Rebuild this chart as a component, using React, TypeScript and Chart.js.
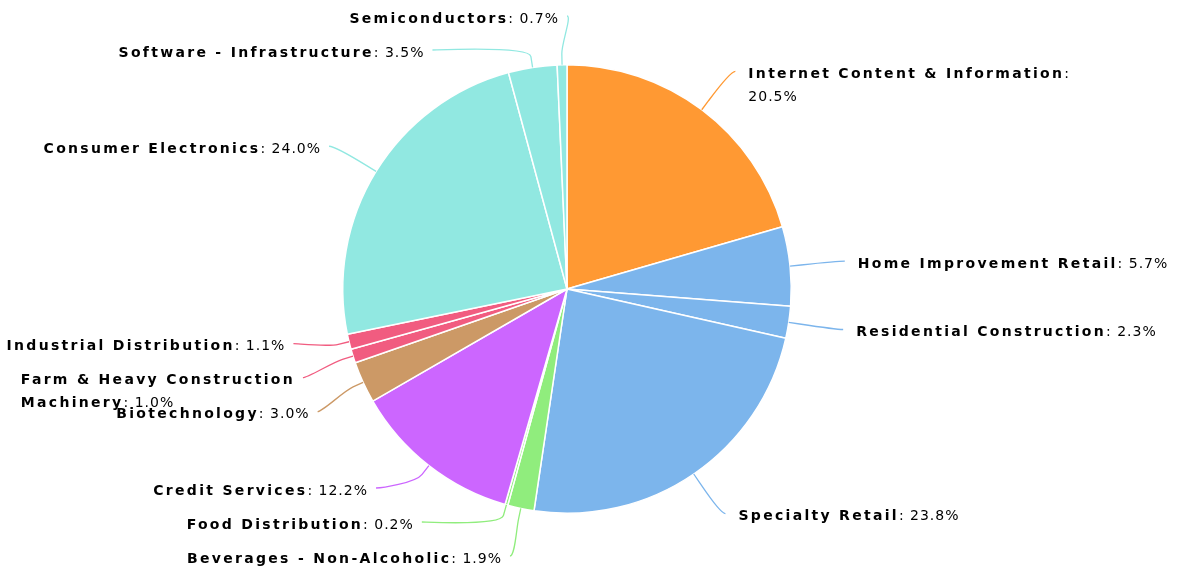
import { useEffect, useRef } from 'react';
import { Chart, registerables } from 'chart.js';

Chart.register(...registerables);

const categories = [
  'Internet Content & Information',
  'Home Improvement Retail',
  'Residential Construction',
  'Specialty Retail',
  'Beverages - Non-Alcoholic',
  'Food Distribution',
  'Credit Services',
  'Biotechnology',
  'Farm & Heavy Construction Machinery',
  'Industrial Distribution',
  'Consumer Electronics',
  'Software - Infrastructure',
  'Semiconductors',
];
const shares = [20.5, 5.7, 2.3, 23.8, 1.9, 0.2, 12.2, 3.0, 1.0, 1.1, 24.0, 3.5, 0.7];
const sliceColors = [
  '#ff9933', '#7cb5ec', '#7cb5ec', '#7cb5ec', '#90ed7d', '#90ed7d', '#cc66ff',
  '#cc9966', '#f15c80', '#f15c80', '#91e8e1', '#91e8e1', '#91e8e1',
];

const FONT_SIZE = 14;
const FONT_FAMILY = '"DejaVu Sans"';
const BOLD_SPACING = '2.3px';
const NORMAL_SPACING = '1px';
const LINE_H = 23;
const MAX_LABEL_W = 330;
const BOX = 34;

type Run = { t: string; b: boolean };

function setFont(ctx: CanvasRenderingContext2D, bold: boolean) {
  ctx.font = `${bold ? 'bold ' : ''}${FONT_SIZE}px ${FONT_FAMILY}`;
  (ctx as any).letterSpacing = bold ? BOLD_SPACING : NORMAL_SPACING;
}
function runW(ctx: CanvasRenderingContext2D, r: Run) {
  setFont(ctx, r.b);
  return ctx.measureText(r.t).width;
}
function lineW(ctx: CanvasRenderingContext2D, runs: Run[]) {
  return runs.reduce((s, r) => s + runW(ctx, r), 0);
}

function buildLines(ctx: CanvasRenderingContext2D, name: string, value: string): Run[][] {
  const words = name.split(' ');
  const tokens: Run[][] = words.map((w, k) =>
    k === words.length - 1 ? [{ t: w, b: true }, { t: ':', b: false }] : [{ t: w, b: true }]
  );
  tokens.push([{ t: value, b: false }]);
  const lines: Run[][] = [];
  let cur: Run[] = [];
  for (const tok of tokens) {
    if (cur.length === 0) {
      cur = [...tok];
      continue;
    }
    const last = cur[cur.length - 1];
    const trial = [...cur, { t: ' ', b: last.b }, ...tok];
    if (lineW(ctx, trial) > MAX_LABEL_W) {
      lines.push(cur);
      cur = [...tok];
    } else {
      cur = trial;
    }
  }
  if (cur.length) lines.push(cur);
  return lines;
}

type Item = { i: number; target: number; pos: number };

function distribute(items: Item[], minY: number, maxY: number) {
  items.sort((a, b) => a.target - b.target);
  let groups = items.map((it) => ({ members: [it], start: 0 }));
  const place = (g: { members: Item[]; start: number }) => {
    const ts = g.members.map((m) => m.target);
    const mid = (Math.min(...ts) + Math.max(...ts)) / 2;
    const n = g.members.length;
    let start = mid - ((n - 1) * BOX) / 2;
    start = Math.max(minY, Math.min(maxY - (n - 1) * BOX, start));
    g.start = start;
  };
  let merged = true;
  while (merged) {
    merged = false;
    groups.forEach(place);
    for (let k = 0; k < groups.length - 1; k++) {
      const a = groups[k];
      const b = groups[k + 1];
      if (a.start + a.members.length * BOX > b.start + 0.001) {
        groups.splice(k, 2, { members: [...a.members, ...b.members], start: 0 });
        merged = true;
        break;
      }
    }
  }
  groups.forEach((g) => g.members.forEach((m, k) => (m.pos = g.start + k * BOX)));
}

const labelPlugin = {
  id: 'pieLabels',
  afterDatasetsDraw(chart: any) {
    const ctx: CanvasRenderingContext2D = chart.ctx;
    const meta = chart.getDatasetMeta(0);
    const arcs = meta.data;
    if (!arcs.length) return;
    const cx = arcs[0].x;
    const cy = arcs[0].y;
    const r = arcs[0].outerRadius;
    const natR = r + 48;
    const ea = r + 55;
    const eb = r + 48.5;
    const left: Item[] = [];
    const right: Item[] = [];
    const mids: number[] = [];
    arcs.forEach((arc: any, i: number) => {
      const mid = (arc.startAngle + arc.endAngle) / 2;
      mids[i] = mid;
      const it = { i, target: cy + Math.sin(mid) * natR, pos: 0 };
      (Math.cos(mid) < 0 ? left : right).push(it);
    });
    distribute(left, 16, 556);
    distribute(right, 16, 556);

    const draw = (items: Item[], isLeft: boolean) => {
      for (const it of items) {
        const i = it.i;
        const mid = mids[i];
        const ay = it.pos;
        const dy = (ay - cy) / eb;
        const dx = ea * Math.sqrt(Math.max(0, 1 - dy * dy));
        const ax = cx + (isLeft ? -dx : dx);
        const cos = Math.cos(mid);
        const sin = Math.sin(mid);
        const touch = { x: cx + cos * r, y: cy + sin * r };
        const brk = { x: cx + cos * (r + 11), y: cy + sin * (r + 11) };
        const color = sliceColors[i];
        ctx.save();
        ctx.strokeStyle = color;
        ctx.lineWidth = 1.3;
        ctx.beginPath();
        ctx.moveTo(ax, ay);
        ctx.bezierCurveTo(ax + (isLeft ? 5 : -5), ay, 2 * brk.x - touch.x, 2 * brk.y - touch.y, brk.x, brk.y);
        ctx.lineTo(touch.x, touch.y);
        ctx.stroke();
        ctx.restore();

        const lines = buildLines(ctx, categories[i], shares[i].toFixed(1) + '%');
        const widths = lines.map((l) => lineW(ctx, l));
        const boxW = Math.max(...widths);
        const x0 = isLeft ? ax - 8 - boxW : ax + 13;
        ctx.save();
        ctx.fillStyle = '#000000';
        ctx.textBaseline = 'middle';
        ctx.textAlign = 'left';
        lines.forEach((line, li) => {
          let x = x0;
          const y = ay + 3 + li * LINE_H;
          for (const run of line) {
            setFont(ctx, run.b);
            ctx.fillText(run.t, x, y);
            x += ctx.measureText(run.t).width;
          }
        });
        ctx.restore();
      }
    };
    draw(left, true);
    draw(right, false);
  },
};

export default function App() {
  const ref = useRef<HTMLCanvasElement>(null);
  useEffect(() => {
    const chart = new Chart(ref.current as HTMLCanvasElement, {
      type: 'pie',
      data: {
        labels: categories,
        datasets: [
          {
            data: shares,
            backgroundColor: sliceColors,
            borderColor: '#ffffff',
            borderWidth: 1.5,
          },
        ],
      },
      options: {
        animation: false,
        responsive: false,
        layout: { padding: { left: 342, right: 385, top: 64, bottom: 59 } },
        plugins: { legend: { display: false }, tooltip: { enabled: false } },
      },
      plugins: [labelPlugin],
    });
    return () => chart.destroy();
  }, []);
  return (
    <div style={{ position: 'absolute', left: 0, top: 0, width: 1177, height: 573, background: '#ffffff' }}>
      <canvas ref={ref} width={1177} height={573} style={{ display: 'block' }} />
    </div>
  );
}
